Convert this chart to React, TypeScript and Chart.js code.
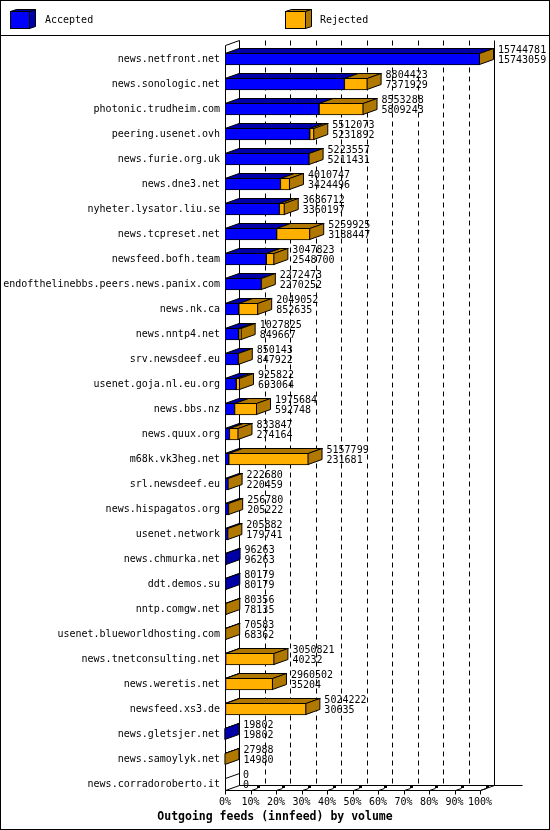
import React, { useEffect, useRef } from 'react';
import { Chart, registerables } from 'chart.js';

Chart.register(...registerables);

// ---------- data ----------
const hosts = [
  'news.netfront.net',
  'news.sonologic.net',
  'photonic.trudheim.com',
  'peering.usenet.ovh',
  'news.furie.org.uk',
  'news.dne3.net',
  'nyheter.lysator.liu.se',
  'news.tcpreset.net',
  'newsfeed.bofh.team',
  'endofthelinebbs.peers.news.panix.com',
  'news.nk.ca',
  'news.nntp4.net',
  'srv.newsdeef.eu',
  'usenet.goja.nl.eu.org',
  'news.bbs.nz',
  'news.quux.org',
  'm68k.vk3heg.net',
  'srl.newsdeef.eu',
  'news.hispagatos.org',
  'usenet.network',
  'news.chmurka.net',
  'ddt.demos.su',
  'nntp.comgw.net',
  'usenet.blueworldhosting.com',
  'news.tnetconsulting.net',
  'news.weretis.net',
  'newsfeed.xs3.de',
  'news.gletsjer.net',
  'news.samoylyk.net',
  'news.corradoroberto.it',
];

const offered = [
  15744781, 8804423, 8553288, 5512073, 5223557, 4010747, 3686712, 5259925,
  3047823, 2272473, 2049052, 1027825, 850143, 925822, 1975684, 833847,
  5157799, 222680, 256780, 205882, 96263, 80179, 80356, 70583, 3050821,
  2960502, 5024222, 19802, 27988, 0,
];

const accepted = [
  15743059, 7371929, 5809243, 5231892, 5211431, 3424496, 3360197, 3188447,
  2548700, 2270252, 852635, 849667, 847922, 693064, 592748, 274164, 231681,
  220459, 205222, 179741, 96263, 80179, 78135, 68362, 40232, 35204, 30635,
  19802, 14980, 0,
];

const seriesNames = ['Accepted', 'Rejected'];
const pctTicks = [0, 10, 20, 30, 40, 50, 60, 70, 80, 90, 100];
const pctLabels = ['0%', '10%', '20%', '30%', '40%', '50%', '60%', '70%', '80%', '90%', '100%'];
const chartTitle = 'Outgoing feeds (innfeed) by volume';

// ---------- derived ----------
const maxOffered = Math.max(...offered);
const acceptedPct = accepted.map((v) => (v / maxOffered) * 100);
const rejectedPct = offered.map((v, i) => ((v - accepted[i]) / maxOffered) * 100);
const seriesValues = [acceptedPct, rejectedPct];

// ---------- style ----------
const FONT = '"DejaVu Sans Mono", "Liberation Mono", monospace';
const FRONT = ['#0000ff', '#ffb000'];
const SHADE = ['#0000a8', '#b07800'];
const DX = 14;
const DY = 5;
const BAR = 12;

Chart.defaults.font.family = FONT;
Chart.defaults.font.size = 10;
Chart.defaults.color = '#000';

function poly(ctx: CanvasRenderingContext2D, pts: number[][], fill: string | null) {
  ctx.beginPath();
  ctx.moveTo(pts[0][0], pts[0][1]);
  for (let i = 1; i < pts.length; i++) ctx.lineTo(pts[i][0], pts[i][1]);
  ctx.closePath();
  if (fill) {
    ctx.fillStyle = fill;
    ctx.fill();
  }
  ctx.stroke();
}

function line(ctx: CanvasRenderingContext2D, x1: number, y1: number, x2: number, y2: number) {
  ctx.beginPath();
  ctx.moveTo(x1, y1);
  ctx.lineTo(x2, y2);
  ctx.stroke();
}

function legendBox(ctx: CanvasRenderingContext2D, x: number, y: number, w: number, h: number, front: string, shade: string) {
  const d = 6;
  const e = 2;
  ctx.fillStyle = front;
  ctx.fillRect(x, y, w, h);
  ctx.strokeRect(x + 0.5, y + 0.5, w - 1, h - 1);
  poly(ctx, [[x + 0.5, y + 0.5], [x + w - 0.5, y + 0.5], [x + w - 0.5 + d, y + 0.5 - e], [x + 0.5 + d, y + 0.5 - e]], shade);
  poly(ctx, [[x + w - 0.5, y + 0.5], [x + w - 0.5 + d, y + 0.5 - e], [x + w - 0.5 + d, y + h - 0.5 - e], [x + w - 0.5, y + h - 0.5]], shade);
}

const threeD = {
  id: 'threeD',
  beforeDraw(chart: any) {
    const { ctx, width, height } = chart;
    ctx.save();
    ctx.fillStyle = '#fff';
    ctx.fillRect(0, 0, width, height);
    ctx.strokeStyle = '#000';
    ctx.lineWidth = 1;
    ctx.strokeRect(0.5, 0.5, width - 1, height - 1);
    line(ctx, 0, 35.5, width, 35.5);
    legendBox(ctx, 10, 11, 20, 18, FRONT[0], SHADE[0]);
    legendBox(ctx, 285, 11, 21, 18, FRONT[1], SHADE[1]);
    ctx.fillStyle = '#000';
    ctx.font = `10px ${FONT}`;
    ctx.textBaseline = 'middle';
    ctx.textAlign = 'left';
    ctx.fillText(seriesNames[0], 45, 20);
    ctx.fillText(seriesNames[1], 320, 20);
    ctx.restore();
  },
  beforeDatasetsDraw(chart: any) {
    const { ctx } = chart;
    const xs = chart.scales.x;
    const ys = chart.scales.y;
    const x0 = Math.round(xs.getPixelForValue(0)) + 0.5;
    const x100 = Math.round(xs.getPixelForValue(100)) + 0.5;
    const fTop = Math.round(ys.getPixelForValue(0) - 14) + 0.5;
    const fBot = Math.round(ys.getPixelForValue(hosts.length - 1) + BAR / 2) + 0.5;
    ctx.save();
    ctx.strokeStyle = '#000';
    ctx.lineWidth = 1;
    // dashed back-wall grid
    ctx.setLineDash([5, 4]);
    for (const p of pctTicks) {
      if (p === 0 || p === 100) continue;
      const x = Math.round(xs.getPixelForValue(p)) + DX + 0.5;
      line(ctx, x, fTop - DY, x, fBot - DY);
    }
    ctx.setLineDash([]);
    // back wall edges
    line(ctx, x0 + DX, fTop - DY, x0 + DX, fBot - DY);
    line(ctx, x100 + DX, fTop - DY, x100 + DX, fBot - DY);
    // front left axis + top slant
    line(ctx, x0, fTop, x0, fBot);
    line(ctx, x0, fTop, x0 + DX, fTop - DY);
    // floor
    line(ctx, x0, fBot, x100, fBot);
    line(ctx, x0, fBot, x0 + DX, fBot - DY);
    line(ctx, x100, fBot, x100 + DX, fBot - DY);
    line(ctx, x0 + DX, fBot - DY, x100 + DX + 28, fBot - DY);
    // tick marks
    ctx.fillStyle = '#000';
    for (const p of pctTicks) {
      const x = Math.round(xs.getPixelForValue(p)) + 0.5;
      line(ctx, x, fBot, x, fBot + 4);
      if (p !== 0) {
        line(ctx, x, fBot, x + 6, fBot - 2);
        ctx.fillRect(x + 5.5, fBot - 4.5, 3, 2);
      }
    }
    ctx.restore();
  },
  afterDatasetsDraw(chart: any) {
    const { ctx } = chart;
    const xs = chart.scales.x;
    const ys = chart.scales.y;
    const metas = [chart.getDatasetMeta(0), chart.getDatasetMeta(1)];
    ctx.save();
    ctx.strokeStyle = '#000';
    ctx.lineWidth = 1;
    ctx.lineJoin = 'miter';
    for (let i = 0; i < hosts.length; i++) {
      let last = -1;
      let lastEl: any = null;
      for (let d = 0; d < 2; d++) {
        if (!(seriesValues[d][i] > 0)) continue;
        const el = metas[d].data[i].getProps(['x', 'y', 'base', 'height'], true);
        const L = Math.min(el.x, el.base);
        const R = Math.max(el.x, el.base);
        const T = el.y - el.height / 2 + 0.5;
        poly(ctx, [[L, T], [R, T], [R + DX, T - DY], [L + DX, T - DY]], SHADE[d]);
        last = d;
        lastEl = el;
      }
      const cy = ys.getPixelForValue(i);
      if (last >= 0) {
        const R = Math.max(lastEl.x, lastEl.base) - 0.5;
        const T = lastEl.y - lastEl.height / 2 + 0.5;
        const B = lastEl.y + lastEl.height / 2 - 0.5;
        poly(ctx, [[R, T], [R + DX, T - DY], [R + DX, B - DY], [R, B]], SHADE[last]);
      } else {
        const x0 = Math.round(xs.getPixelForValue(0)) + 0.5;
        const T = cy - BAR / 2 + 0.5;
        line(ctx, x0, T, x0 + DX, T - DY);
      }
      // value labels
      const xe = xs.getPixelForValue(acceptedPct[i] + rejectedPct[i]) + DX + 4;
      ctx.fillStyle = '#000';
      ctx.font = `10px ${FONT}`;
      ctx.textBaseline = 'middle';
      ctx.textAlign = 'left';
      ctx.fillText(String(offered[i]), xe, cy - 9);
      ctx.fillText(String(accepted[i]), xe, cy + 1.5);
    }
    ctx.restore();
  },
};

export default function App() {
  const ref = useRef<HTMLCanvasElement>(null);
  useEffect(() => {
    if (!ref.current) return;
    const chart = new Chart(ref.current, {
      type: 'bar',
      data: {
        labels: hosts,
        datasets: seriesNames.map((name, d) => ({
          label: name,
          data: seriesValues[d],
          backgroundColor: FRONT[d],
          borderColor: '#000',
          borderWidth: 1,
          borderSkipped: false,
          barThickness: BAR,
          xAxisID: 'x',
          yAxisID: 'y',
        })),
      },
      options: {
        indexAxis: 'y',
        animation: false,
        responsive: false,
        devicePixelRatio: 1,
        events: [],
        layout: { padding: { top: 46.5, left: 0, right: 0, bottom: 0 } },
        scales: {
          x: {
            type: 'linear',
            stacked: true,
            min: 0,
            max: 100,
            position: 'bottom',
            grid: { display: false, drawTicks: false },
            border: { display: false },
            ticks: {
              stepSize: 10,
              autoSkip: false,
              maxRotation: 0,
              minRotation: 0,
              padding: -0.5,
              color: '#000',
              font: { family: FONT, size: 10 },
              callback: (_v: any, idx: number) => pctLabels[idx],
            },
            afterFit: (s: any) => {
              s.height = 13.6;
            },
          },
          y: {
            type: 'category',
            stacked: true,
            position: 'left',
            offset: true,
            grid: { display: false, drawTicks: false },
            border: { display: false },
            ticks: {
              autoSkip: false,
              padding: 5,
              color: '#000',
              font: { family: FONT, size: 10 },
            },
            afterFit: (s: any) => {
              s.width = 225;
            },
          },
          yR: {
            type: 'linear',
            position: 'right',
            display: true,
            grid: { display: false, drawTicks: false },
            border: { display: false },
            ticks: { display: false },
            afterFit: (s: any) => {
              s.width = 70;
            },
          },
        },
        plugins: {
          legend: { display: false },
          tooltip: { enabled: false },
          title: {
            display: true,
            text: chartTitle,
            position: 'bottom',
            color: '#000',
            font: { family: FONT, size: 11.5, weight: 'bold' },
            padding: { top: 0, bottom: 6.1 },
          },
        },
      },
      plugins: [threeD],
    } as any);
    return () => chart.destroy();
  }, []);
  return (
    <div style={{ position: 'absolute', left: 0, top: 0, width: 550, height: 830 }}>
      <canvas ref={ref} width={550} height={830} style={{ display: 'block' }} />
    </div>
  );
}
